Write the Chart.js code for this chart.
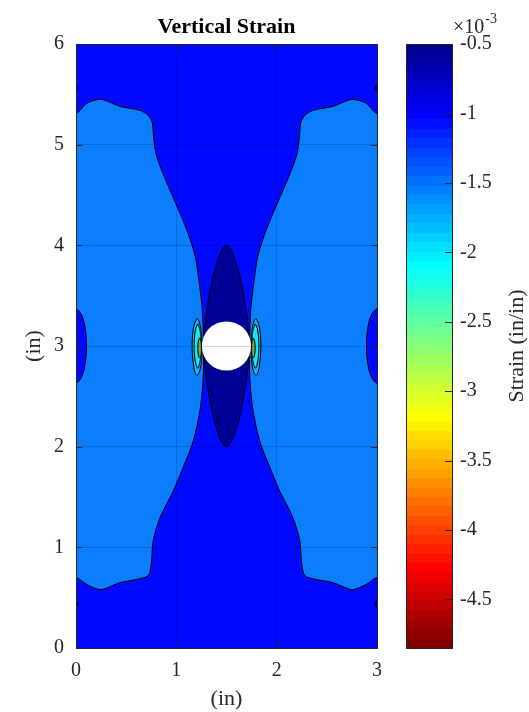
<!DOCTYPE html>
<html><head><meta charset="utf-8">
<script src="https://cdn.jsdelivr.net/npm/chart.js@4/dist/chart.umd.min.js"></script>
<style>
html,body{margin:0;padding:0;background:#fff;}
#wrap{position:relative;width:529px;height:712px;overflow:hidden;}
#main{position:absolute;left:0;top:0;}
#cbar{position:absolute;left:380px;top:0;}
</style></head><body>
<div id="wrap"><canvas id="main" width="529" height="712"></canvas><canvas id="cbar" width="149" height="712"></canvas></div>
<script>
// ---------- data (inches / strain x1e-3) ----------
const xTicks = [0, 1, 2, 3];
const yTicks = [0, 1, 2, 3, 4, 5, 6];
const cbTicks = [-0.5, -1, -1.5, -2, -2.5, -3, -3.5, -4, -4.5];
const cbMin = -4.85;
const cbMax = -0.5;

// background level (about -1.0e-3)
const plotBox = [[-0.5,-0.5],[3.5,-0.5],[3.5,6.5],[-0.5,6.5],[-0.5,-0.5]];
// about -1.5e-3 level, left and right lobes
const leftLight = [[-0.2,5.31],[0,5.31],[0.107,5.41],[0.24,5.45],[0.34,5.42],[0.44,5.38],[0.64,5.34],[0.72,5.29],[0.76,5.22],[0.77,5.11],[0.79,4.94],[0.84,4.78],[0.94,4.54],[1.04,4.31],[1.12,4.11],[1.19,3.88],[1.23,3.61],[1.26,3.34],[1.27,3.0],[1.27,2.73],[1.24,2.39],[1.17,2.06],[1.07,1.80],[0.97,1.56],[0.84,1.30],[0.77,1.07],[0.75,0.84],[0.72,0.72],[0.60,0.68],[0.44,0.65],[0.34,0.61],[0.24,0.58],[0.11,0.63],[0,0.70],[-0.2,0.70]];
const rightLight = [[3.2,5.31],[3,5.31],[2.893,5.41],[2.76,5.45],[2.66,5.42],[2.56,5.38],[2.36,5.34],[2.28,5.29],[2.24,5.22],[2.23,5.11],[2.21,4.94],[2.16,4.78],[2.06,4.54],[1.96,4.31],[1.88,4.11],[1.81,3.88],[1.77,3.61],[1.74,3.34],[1.73,3.0],[1.73,2.73],[1.76,2.39],[1.83,2.06],[1.93,1.80],[2.03,1.56],[2.16,1.30],[2.23,1.07],[2.25,0.84],[2.28,0.72],[2.40,0.68],[2.56,0.65],[2.66,0.61],[2.76,0.58],[2.89,0.63],[3,0.70],[3.2,0.70]];
// about -0.6e-3 level, lens above/below the hole
const centerLens = [[1.28,3.0],[1.283,3.13],[1.293,3.27],[1.316,3.43],[1.346,3.60],[1.376,3.73],[1.419,3.87],[1.45,3.95],[1.5,4.0],[1.55,3.95],[1.581,3.87],[1.624,3.73],[1.654,3.60],[1.684,3.43],[1.707,3.27],[1.717,3.13],[1.72,3.0],[1.717,2.87],[1.707,2.73],[1.684,2.57],[1.654,2.40],[1.624,2.27],[1.581,2.13],[1.55,2.05],[1.5,2.0],[1.45,2.05],[1.419,2.13],[1.376,2.27],[1.346,2.40],[1.316,2.57],[1.293,2.73],[1.283,2.87],[1.28,3.0]];
// edge bumps at mid-height
const leftBump = [[-0.05,2.62],[0,2.63],[0.05,2.68],[0.088,2.8],[0.105,3.0],[0.088,3.2],[0.05,3.32],[0,3.37],[-0.05,3.38]];
const rightBump = [[3.05,2.62],[3,2.63],[2.95,2.68],[2.912,2.8],[2.895,3.0],[2.912,3.2],[2.95,3.32],[3,3.37],[3.05,3.38]];
// tiny edge islands
const dotLT = [[-0.03,5.53],[0,5.535],[0.018,5.565],[0,5.595],[-0.03,5.6]];
const dotLB = [[-0.03,0.40],[0,0.405],[0.018,0.435],[0,0.465],[-0.03,0.47]];
const dotRT = [[3.03,5.53],[3,5.535],[2.982,5.565],[3,5.595],[3.03,5.6]];
const dotRB = [[3.03,0.40],[3,0.405],[2.982,0.435],[3,0.465],[3.03,0.47]];
// concentration next to the hole (-1.75, -2.0, -2.8 levels)
const blobOuterL = [[1.205,3.275],[1.225,3.25],[1.243,3.17],[1.255,3.06],[1.257,2.97],[1.25,2.85],[1.235,2.76],[1.208,2.71],[1.185,2.74],[1.168,2.84],[1.157,2.98],[1.163,3.12],[1.18,3.22],[1.205,3.275]];
const blobInnerL = [[1.213,3.22],[1.233,3.17],[1.246,3.08],[1.25,3.0],[1.246,2.92],[1.233,2.83],[1.213,2.78],[1.195,2.82],[1.182,2.9],[1.177,3.0],[1.182,3.1],[1.195,3.18],[1.213,3.22]];
const blobCoreL = [[1.235,3.08],[1.247,3.04],[1.25,2.98],[1.247,2.91],[1.235,2.88],[1.222,2.9],[1.214,2.98],[1.222,3.06],[1.235,3.08]];
const blobOuterR = [[1.795,3.275],[1.775,3.25],[1.757,3.17],[1.745,3.06],[1.743,2.97],[1.75,2.85],[1.765,2.76],[1.792,2.71],[1.815,2.74],[1.832,2.84],[1.843,2.98],[1.837,3.12],[1.82,3.22],[1.795,3.275]];
const blobInnerR = [[1.787,3.22],[1.767,3.17],[1.754,3.08],[1.75,3.0],[1.754,2.92],[1.767,2.83],[1.787,2.78],[1.805,2.82],[1.818,2.9],[1.823,3.0],[1.818,3.1],[1.805,3.18],[1.787,3.22]];
const blobCoreR = [[1.765,3.08],[1.753,3.04],[1.75,2.98],[1.753,2.91],[1.765,2.88],[1.778,2.9],[1.786,2.98],[1.778,3.06],[1.765,3.08]];
// hole
const holeCenter = [[1.5, 3.0]];
const holeRadius = 0.245;

// ---------- styling ----------
const SERIF = "'Liberation Serif','Times New Roman',serif";
const TXT = '#262626';
const C_BG = '#0008FF', C_LIGHT = '#0A7EFF', C_NAVY = '#000096';
const C_OUT = '#14B4F4', C_IN = '#10EAF6', C_CORE = '#74B040';

const pts = a => a.map(p => ({x: p[0], y: p[1]}));
function shape(arr, color, order, border = 1, tension = 0.35) {
  return {data: pts(arr), showLine: true, fill: 'shape', backgroundColor: color,
    borderColor: '#000', borderWidth: border, pointRadius: 0, pointHoverRadius: 0,
    tension: tension, order: order};
}

const boxPlugin = {
  id: 'boxPlugin',
  afterDraw(chart) {
    const {ctx, chartArea: a, scales} = chart;
    ctx.save();
    ctx.strokeStyle = TXT; ctx.lineWidth = 1;
    ctx.beginPath();
    const L = 6;
    scales.x.ticks.forEach(t => {
      const px = Math.round(scales.x.getPixelForValue(t.value)) + 0.5;
      ctx.moveTo(px, a.bottom); ctx.lineTo(px, a.bottom - L);
      ctx.moveTo(px, a.top); ctx.lineTo(px, a.top + L);
    });
    scales.y.ticks.forEach(t => {
      const py = Math.round(scales.y.getPixelForValue(t.value)) + 0.5;
      ctx.moveTo(a.left, py); ctx.lineTo(a.left + L, py);
      ctx.moveTo(a.right, py); ctx.lineTo(a.right - L, py);
    });
    ctx.stroke();
    ctx.strokeRect(Math.round(a.left) + 0.5, Math.round(a.top) + 0.5, Math.round(a.right - a.left), Math.round(a.bottom - a.top));
    ctx.restore();
  }
};

new Chart(document.getElementById('main'), {
  type: 'scatter',
  data: {datasets: [
    {data: pts(holeCenter), showLine: false, pointBackgroundColor: '#fff', pointBorderWidth: 0,
     pointRadius: c => { const s = c.chart.scales.x; return s.getPixelForValue(holeCenter[0][0] + holeRadius) - s.getPixelForValue(holeCenter[0][0]); },
     pointHoverRadius: c => { const s = c.chart.scales.x; return s.getPixelForValue(holeCenter[0][0] + holeRadius) - s.getPixelForValue(holeCenter[0][0]); },
     order: 0},
    shape(blobCoreL, C_CORE, 1), shape(blobCoreR, C_CORE, 1),
    shape(blobInnerL, C_IN, 2), shape(blobInnerR, C_IN, 2),
    shape(blobOuterL, C_OUT, 3), shape(blobOuterR, C_OUT, 3),
    shape(dotLT, C_NAVY, 4), shape(dotLB, C_NAVY, 4), shape(dotRT, C_NAVY, 4), shape(dotRB, C_NAVY, 4),
    shape(leftBump, C_BG, 5), shape(rightBump, C_BG, 5),
    shape(centerLens, C_NAVY, 6),
    shape(leftLight, C_LIGHT, 7, 1, 0.3), shape(rightLight, C_LIGHT, 7, 1, 0.3),
    shape(plotBox, C_BG, 8, 0, 0)
  ]},
  options: {
    responsive: false, animation: false, events: [],
    layout: {padding: {left: 0, right: 152, top: 0, bottom: 0}},
    plugins: {
      legend: {display: false}, tooltip: {enabled: false},
      title: {display: true, text: 'Vertical Strain', color: '#000', fullSize: false,
        font: {family: SERIF, size: 22, weight: 'bold', lineHeight: 1.2},
        padding: {top: 14, bottom: 3.6}}
    },
    scales: {
      x: {type: 'linear', min: 0, max: 3,
        afterBuildTicks: s => { s.ticks = xTicks.map(v => ({value: v})); },
        afterFit: s => { s.height = 64; },
        grid: {color: 'rgba(0,0,0,0.16)', lineWidth: 1, z: 1, drawTicks: false},
        border: {display: false},
        ticks: {color: TXT, font: {family: SERIF, size: 20}, padding: 11, maxRotation: 0, autoSkip: false},
        title: {display: true, text: '(in)', color: TXT, font: {family: SERIF, size: 22}, padding: {top: 0, bottom: 0}}
      },
      y: {type: 'linear', min: 0, max: 6,
        afterBuildTicks: s => { s.ticks = yTicks.map(v => ({value: v})); },
        afterFit: s => { s.width = 76; },
        grid: {color: 'rgba(0,0,0,0.16)', lineWidth: 1, z: 1, drawTicks: false},
        border: {display: false},
        ticks: {color: TXT, font: {family: SERIF, size: 20}, padding: 12, autoSkip: false},
        title: {display: true, text: '(in)', color: TXT, font: {family: SERIF, size: 22}, padding: {top: 21, bottom: 0}}
      }
    }
  },
  plugins: [boxPlugin]
});

// ---------- colorbar (flipped jet, 64 steps) ----------
function jet64(k) { // k = 1..64
  const u = j => j <= 16 ? j / 16 : (j <= 31 ? 1 : (48 - j) / 16);
  const b = (k + 8 >= 1 && k + 8 <= 47) ? u(k + 8) : 0;
  const g = (k - 8 >= 1 && k - 8 <= 47) ? u(k - 8) : 0;
  const r = (k - 24 >= 1 && k - 24 <= 47) ? u(k - 24) : 0;
  return `rgb(${Math.round(r*255)},${Math.round(g*255)},${Math.round(b*255)})`;
}
function cbGradient(c) {
  const chart = c.chart;
  const a = chart.chartArea;
  if (!a) return '#00f';
  const ys = chart.scales.y;
  const top = ys.getPixelForValue(cbMax), bot = ys.getPixelForValue(cbMin);
  const g = chart.ctx.createLinearGradient(0, top, 0, bot);
  for (let i = 0; i < 64; i++) {
    const col = jet64(i + 1);
    g.addColorStop(i / 64, col);
    g.addColorStop((i + 1) / 64 - 1e-6, col);
  }
  return g;
}
const cbPlugin = {
  id: 'cbPlugin',
  afterDraw(chart) {
    const {ctx, chartArea: a, scales} = chart;
    ctx.save();
    ctx.strokeStyle = TXT; ctx.lineWidth = 1;
    ctx.beginPath();
    scales.y.ticks.forEach(t => {
      const py = Math.round(scales.y.getPixelForValue(t.value)) + 0.5;
      ctx.moveTo(a.right, py); ctx.lineTo(a.right - 7, py);
    });
    ctx.stroke();
    ctx.strokeRect(Math.round(a.left) + 0.5, Math.round(a.top) + 0.5, Math.round(a.right - a.left), Math.round(a.bottom - a.top));
    ctx.fillStyle = TXT;
    ctx.textBaseline = 'alphabetic'; ctx.textAlign = 'left';
    ctx.font = `20px ${SERIF}`;
    const base = '\u00d710';
    ctx.fillText(base, 73, 33);
    const w = ctx.measureText(base).width;
    ctx.font = `14px ${SERIF}`;
    ctx.fillText('-3', 73 + w + 1, 23);
    ctx.translate(137, (a.top + a.bottom) / 2);
    ctx.rotate(-Math.PI / 2);
    ctx.textAlign = 'center'; ctx.textBaseline = 'middle';
    ctx.font = `22px ${SERIF}`;
    ctx.fillText('Strain (in/in)', 0, 0);
    ctx.restore();
  }
};
new Chart(document.getElementById('cbar'), {
  type: 'bar',
  data: {labels: ['cb'], datasets: [{data: [[cbMin, cbMax]], backgroundColor: cbGradient, borderWidth: 0,
    barPercentage: 1, categoryPercentage: 1, grouped: false}]},
  options: {
    responsive: false, animation: false, events: [],
    layout: {padding: {left: 26, right: 0, top: 44, bottom: 64}},
    plugins: {legend: {display: false}, tooltip: {enabled: false}},
    scales: {
      x: {display: false},
      y: {position: 'right', min: cbMin, max: cbMax,
        afterBuildTicks: s => { s.ticks = cbTicks.map(v => ({value: v})); },
        afterFit: s => { s.width = 77; },
        grid: {display: false, drawTicks: false}, border: {display: false},
        ticks: {color: TXT, font: {family: SERIF, size: 20}, padding: 8, autoSkip: false,
          callback: v => String(v)}
      }
    }
  },
  plugins: [cbPlugin]
});
</script>
</body></html>
